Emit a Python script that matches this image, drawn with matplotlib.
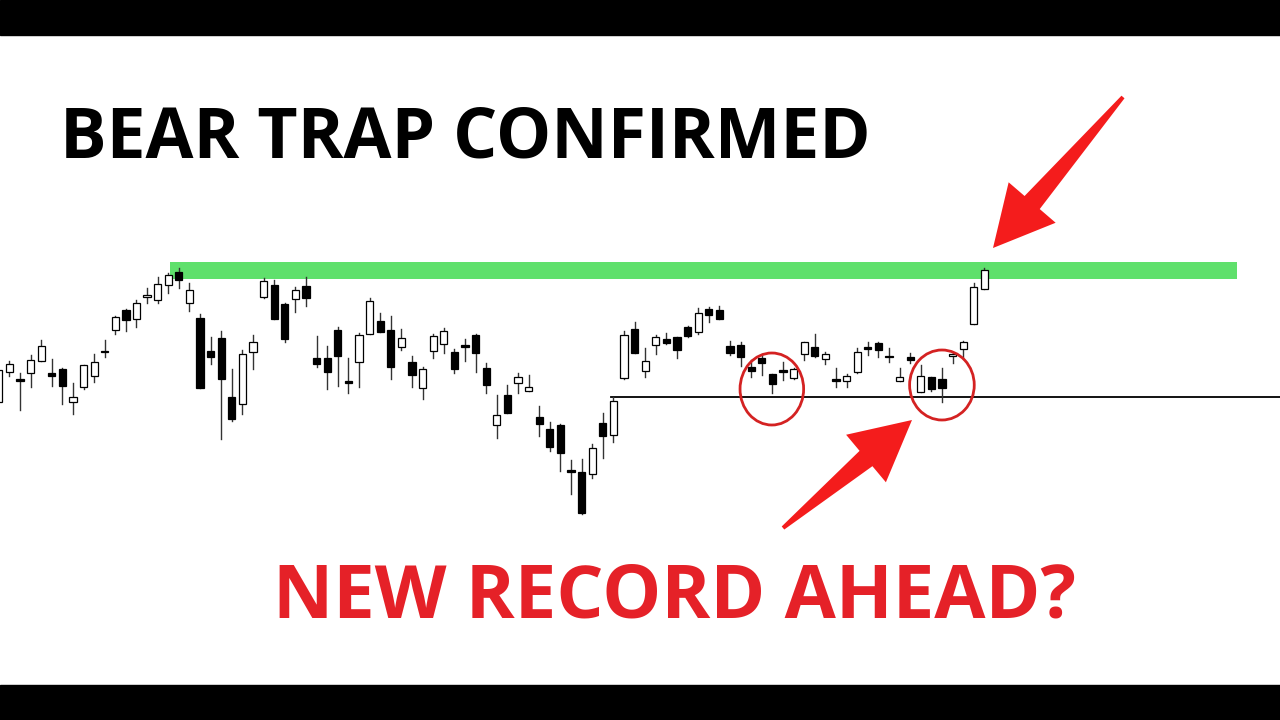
import matplotlib.pyplot as plt
from matplotlib.patches import Rectangle, Ellipse, Polygon
import numpy as np

# Daily candles (arbitrary price units)
opens = [118, 147.7, 141.3, 146.7, 159.3, 146.7, 150.7, 118, 132.7, 143.7,
         169.3, 190.3, 210, 200.7, 222.7, 220, 234.7, 248.3, 216.7, 201.7,
         169, 181.7, 123.3, 116, 167.7, 223.3, 235, 215.7, 220.7, 234,
         162.3, 161.7, 190.3, 138.7, 157.7, 185.7, 199.3, 189.7, 173.3, 158.3,
         132.3, 169, 175.7, 168, 174.7, 185, 151.7, 94.7, 124.7, 136.7,
         128.7, 103, 91, 95, 50.3, 48.3, 45.7, 96.7, 84.7, 141.7,
         191, 149, 174.7, 180.7, 183.3, 193.3, 187.7, 210.7, 210, 174,
         175, 152.7, 161.7, 146, 149.5, 141.7, 165.7, 173.3, 160.7, 140.5,
         139, 148.3, 172.2, 176.7, 163.8, 139.3, 162.7, 127.7, 142.7, 140.7,
         164, 170.7, 195.7, 231]
closes = [150, 155.7, 139.3, 159.7, 174, 143.7, 134.3, 122.7, 155, 158.3,
          167.7, 202.7, 200, 216.7, 224.7, 235.7, 245, 240, 230, 132.3,
          163, 140.7, 100.7, 166, 177.7, 239, 200.7, 181, 230, 222.3,
          156.3, 148, 164, 137, 185, 219, 187.7, 153.3, 181.7, 145,
          150.7, 184, 189.3, 150.7, 173.3, 167.3, 135, 105.3, 107.3, 143.3,
          133.3, 95.7, 72.7, 67, 48.3, 6.7, 71.7, 84.3, 119, 185,
          166.7, 159.3, 182.7, 176.7, 170, 184.3, 206.7, 205, 200.7, 166.7,
          163.3, 149.3, 156.7, 135.7, 148.5, 150.7, 177.7, 164.3, 166, 139.5,
          144.3, 167.7, 171.2, 170, 162.8, 142.7, 160.3, 144.3, 131, 131.7,
          166, 178.3, 232.7, 250]
highs = [153, 159.3, 146.7, 165, 180, 160.7, 151.7, 136.7, 155, 166.3,
         180, 204.3, 210.7, 220, 231.7, 243.3, 247, 251.7, 237.3, 206,
         182.7, 189.3, 150.7, 170, 185, 241.7, 240, 216.7, 233.3, 242.7,
         184.3, 174, 192.7, 161.7, 186.7, 221.7, 206.7, 204, 191, 164,
         152.7, 185.7, 191.7, 170.7, 180.7, 185.7, 156.7, 125, 135, 146.7,
         145, 114.3, 97.7, 95.7, 60, 60.7, 76, 106.7, 122.7, 189.3,
         197.7, 171.7, 185, 187.3, 183.3, 194, 211.7, 213.3, 214, 179.3,
         178.3, 160, 165, 146, 157.7, 151.7, 177.7, 186, 168.3, 152.3,
         145.7, 171.7, 178.3, 178.3, 171.7, 151.7, 167.3, 155, 143.3, 151.7,
         168.3, 179, 236.7, 251.7]
lows = [115, 144, 110, 133.3, 159, 134.3, 115.7, 105.7, 131, 138.3,
        163.3, 186, 189.3, 192.7, 216.7, 217.3, 226.7, 231.7, 209, 131.7,
        155.7, 80.7, 99.3, 105.7, 151, 221.7, 200.7, 177.7, 208.3, 214,
        153.3, 131.3, 133.7, 126.7, 133.3, 185.7, 187.7, 140.7, 170, 132.7,
        121.5, 161.7, 166.7, 147.3, 159.3, 148.3, 126.7, 81.7, 106.7, 126.7,
        128.7, 84, 69, 49.5, 26, 6, 42.3, 61.7, 78.3, 140.7,
        166.7, 142.7, 165.7, 176, 162.3, 182.7, 186, 198.3, 200.7, 165,
        154.3, 143.3, 145, 127.3, 140, 141, 160, 162.7, 156, 132.7,
        133.3, 146.7, 165, 163.3, 158.3, 139.3, 156.7, 127.7, 129.3, 118.3,
        156.7, 161.7, 195.7, 231]

resistance = 249.5   # green band centre
support = 123        # black line level
title = "BEAR TRAP CONFIRMED"
subtitle = "NEW RECORD AHEAD?"

W, H = 1280, 720
fig = plt.figure(figsize=(12.8, 7.2), dpi=100)
ax = fig.add_axes([0, 0, 1, 1])
ax.set_xlim(0.12, 120.9)
ax.set_ylim(-200, 520)
ax.axis('off')

# letterbox bars
fig.patches.append(Rectangle((0, 0), 1, 35 / H, transform=fig.transFigure, color='black', zorder=0))
fig.patches.append(Rectangle((0, 1 - 35 / H), 1, 35 / H, transform=fig.transFigure, color='black', zorder=0))

# resistance band and support line
ax.add_patch(Rectangle((16.16, resistance - 8.5), 100.7, 17, color='#5fe06c', lw=0, zorder=1))
ax.plot([57.8, 121], [support, support], color='black', lw=1.3, zorder=1)

# candles
x = np.arange(len(opens))
bw = 0.68
for i in x:
    o, c, h, l = opens[i], closes[i], highs[i], lows[i]
    ax.plot([i, i], [l, h], color='#333333', lw=1.0, zorder=2)
    bottom = min(o, c)
    height = max(abs(c - o), 1.5)
    face = 'white' if c > o else 'black'
    ax.add_patch(Rectangle((i - bw / 2, bottom), bw, height, facecolor=face,
                           edgecolor='black', lw=0.9, zorder=3))

# red circles
for cx, cy, w, hgt in [(72.95, 131, 6.0, 72), (89.0, 135, 6.1, 70)]:
    ax.add_patch(Ellipse((cx, cy), w, hgt, fill=False, edgecolor='#d42222', lw=2.0, zorder=4))


def arrow(tail, tip, head_len=60, head_half=31, shaft_tip=10, shaft_tail=2):
    # tapered arrow polygon in figure pixels (image coords, y down)
    t = np.array(tail, float)
    p = np.array(tip, float)
    d = (p - t) / np.linalg.norm(p - t)
    n = np.array([-d[1], d[0]])
    base = p - d * head_len
    pts = [t + n * shaft_tail, base + n * shaft_tip, base + n * head_half, p,
           base - n * head_half, base - n * shaft_tip, t - n * shaft_tail]
    pts = [(q[0] / W, 1 - q[1] / H) for q in pts]
    fig.patches.append(Polygon(pts, closed=True, transform=fig.transFigure,
                               color='#f41c1c', lw=0, zorder=5))


arrow((1123, 97), (993, 248))
arrow((783, 528), (912, 420))

fig.text(60 / W, 1 - 158 / H, title, fontsize=50, fontweight='bold',
         family='Open Sans', color='black', ha='left', va='baseline')
fig.text(273 / W, 1 - 618 / H, subtitle, fontsize=53.5, fontweight='bold',
         family='Open Sans', color='#e52128', ha='left', va='baseline')

fig.savefig('out.png', dpi=100, facecolor='white')
